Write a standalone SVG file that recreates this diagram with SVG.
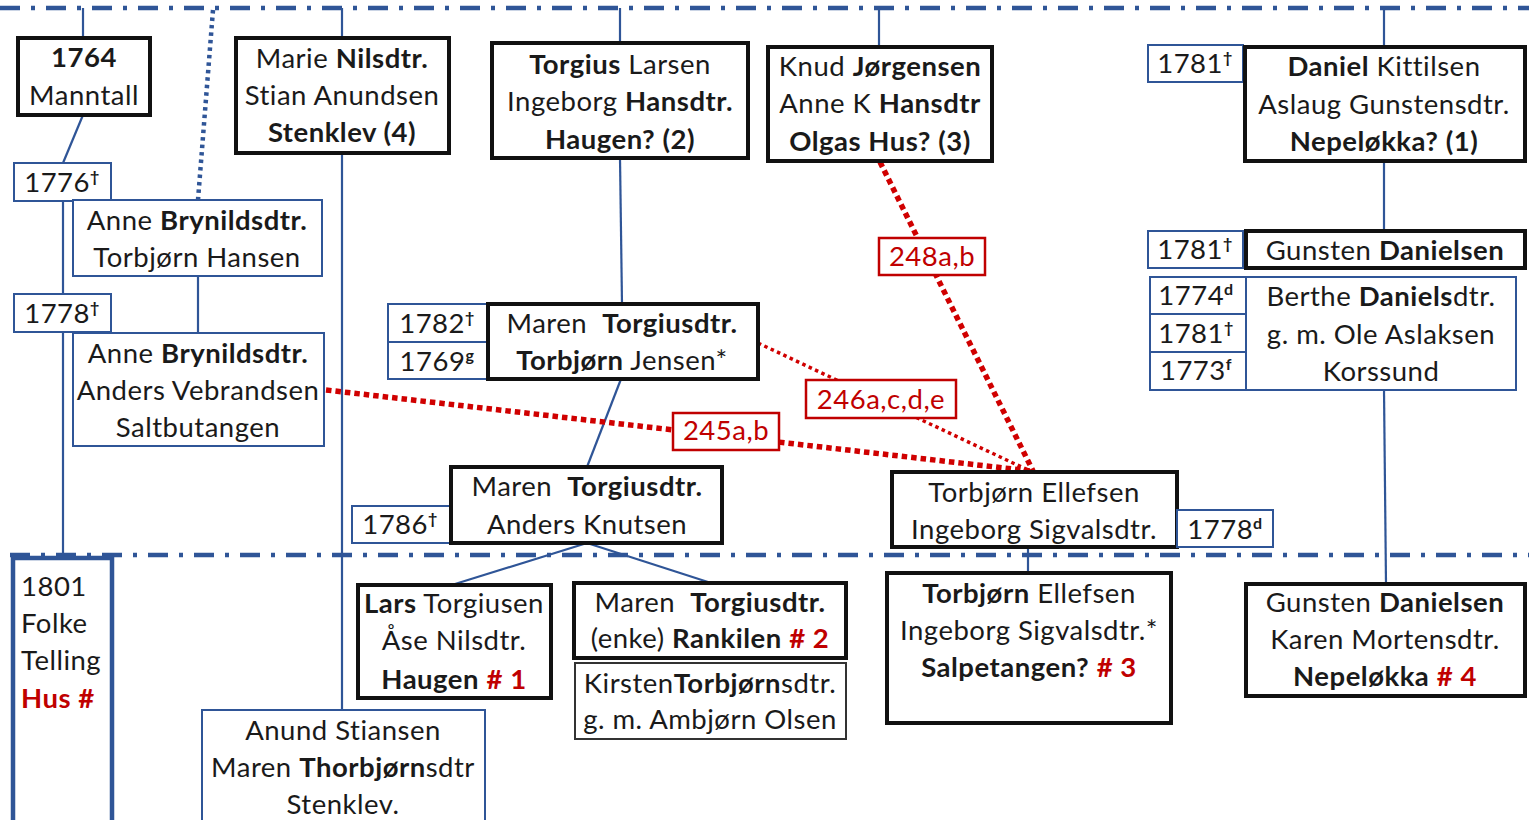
<svg xmlns="http://www.w3.org/2000/svg" width="1529" height="820" viewBox="0 0 1529 820">
<style>
text{font-family:Lato,"Open Sans","Liberation Sans",sans-serif;font-size:27.5px;letter-spacing:0.5px;fill:#1a1a1a;text-anchor:middle;white-space:pre}
.b{font-weight:bold}
.r{fill:#c00000;font-weight:bold}
.rl{fill:#c00000}
.sup{font-size:16px;font-weight:bold}
.bk{fill:#fff;stroke:#111;stroke-width:4}
.bl{fill:#fff;stroke:#2f5597;stroke-width:2}
.gy{fill:#fff;stroke:#333;stroke-width:2}
.rb{fill:#fff;stroke:#c00000;stroke-width:2.5}
.ln{stroke:#2f5597;stroke-width:2.2;fill:none}
.dd{stroke:#2f5597;stroke-width:4.5;fill:none;stroke-dasharray:20 11 4 11}
.rd{stroke:#d00000;stroke-width:5.5;fill:none;stroke-dasharray:5.5 4}
.rt{stroke:#d00000;stroke-width:3.5;fill:none;stroke-dasharray:3.5 3.5}
</style>
<rect width="1529" height="820" fill="#fff"/>
<g id="connectors">
<line class="dd" x1="0" y1="8" x2="1529" y2="8"/>
<line class="dd" x1="10" y1="555" x2="1529" y2="555"/>
<line class="ln" x1="83" y1="8" x2="83" y2="38"/>
<line class="ln" x1="342" y1="8" x2="342" y2="38"/>
<line class="ln" x1="620" y1="8" x2="620" y2="43"/>
<line class="ln" x1="879" y1="8" x2="879" y2="47"/>
<line class="ln" x1="1384" y1="8" x2="1384" y2="47"/>
<line x1="213" y1="10" x2="198" y2="200" stroke="#2f5597" stroke-width="4.5" stroke-dasharray="3.5 4"/>
<line class="ln" x1="83" y1="115" x2="63" y2="163"/>
<line class="ln" x1="63" y1="201" x2="63" y2="294"/>
<line class="ln" x1="63" y1="332" x2="63" y2="556"/>
<line class="ln" x1="198" y1="276" x2="198" y2="333"/>
<line class="ln" x1="342" y1="153" x2="342" y2="709"/>
<line class="ln" x1="620" y1="158" x2="622" y2="304"/>
<line class="ln" x1="621" y1="379" x2="587" y2="467"/>
<line class="ln" x1="587" y1="543" x2="455" y2="584"/>
<line class="ln" x1="587" y1="543" x2="708" y2="582"/>
<line class="ln" x1="1384" y1="161" x2="1384" y2="230"/>
<line class="ln" x1="1384" y1="390" x2="1386" y2="584"/>
<line class="ln" x1="1028" y1="547" x2="1028" y2="572"/>
<line class="rd" x1="326" y1="390" x2="1030" y2="471"/>
<line class="rt" x1="758" y1="343" x2="1030" y2="471"/>
<line class="rd" x1="880" y1="162" x2="1033" y2="471"/>
</g>
<g id="n1764"><rect class="bk" x="18" y="38" width="132" height="77"/><text x="84" y="67" class="b">1764</text><text x="84" y="105">Manntall</text></g>
<g id="nMarie"><rect class="bk" x="236" y="38" width="213" height="115"/><text x="342" y="68">Marie <tspan class="b">Nilsdtr.</tspan></text><text x="342" y="105">Stian Anundsen</text><text x="342" y="142" class="b">Stenklev (4)</text></g>
<g id="nTorgius"><rect class="bk" x="492" y="43" width="256" height="115"/><text x="620" y="74"><tspan class="b">Torgius</tspan> Larsen</text><text x="620" y="111">Ingeborg <tspan class="b">Hansdtr.</tspan></text><text x="620" y="149" class="b">Haugen? (2)</text></g>
<g id="nKnud"><rect class="bk" x="768" y="47" width="224" height="114"/><text x="880" y="76">Knud <tspan class="b">Jørgensen</tspan></text><text x="880" y="113">Anne K <tspan class="b">Hansdtr</tspan></text><text x="880" y="151" class="b">Olgas Hus? (3)</text></g>
<g id="nDaniel"><rect class="bl" x="1148" y="45" width="95" height="37"/><text x="1195" y="73">1781<tspan class="sup" dy="-10">†</tspan></text><rect class="bk" x="1245" y="47" width="280" height="114"/><text x="1384" y="76"><tspan class="b">Daniel</tspan> Kittilsen</text><text x="1384" y="114">Aslaug Gunstensdtr.</text><text x="1384" y="151" class="b">Nepeløkka? (1)</text></g>
<g id="nGunsten"><rect class="bl" x="1148" y="231" width="95" height="37"/><text x="1195" y="259">1781<tspan class="sup" dy="-10">†</tspan></text><rect class="bk" x="1246" y="231" width="279" height="37"/><text x="1385" y="260">Gunsten <tspan class="b">Danielsen</tspan></text></g>
<g id="nBerthe"><rect class="bl" x="1246" y="277" width="270" height="113"/><rect class="bl" x="1150" y="277" width="96" height="37"/><rect class="bl" x="1150" y="314" width="96" height="38"/><rect class="bl" x="1150" y="352" width="96" height="38"/><text x="1196" y="305">1774<tspan class="sup" dy="-10">d</tspan></text><text x="1196" y="343">1781<tspan class="sup" dy="-10">†</tspan></text><text x="1196" y="380">1773<tspan class="sup" dy="-10">f</tspan></text><text x="1381" y="306">Berthe <tspan class="b">Daniels</tspan>dtr.</text><text x="1381" y="344">g. m. Ole Aslaksen</text><text x="1381" y="381">Korssund</text></g>
<g id="nAnneHansen"><rect class="bl" x="14" y="163" width="97" height="38"/><text x="62" y="192">1776<tspan class="sup" dy="-10">†</tspan></text><rect class="bl" x="73" y="200" width="249" height="76"/><text x="197" y="230">Anne <tspan class="b">Brynildsdtr.</tspan></text><text x="197" y="267">Torbjørn Hansen</text></g>
<g id="nAnneAnders"><rect class="bl" x="14" y="294" width="97" height="38"/><text x="62" y="323">1778<tspan class="sup" dy="-10">†</tspan></text><rect class="bl" x="73" y="333" width="251" height="113"/><text x="198" y="363">Anne <tspan class="b">Brynildsdtr.</tspan></text><text x="198" y="400">Anders Vebrandsen</text><text x="198" y="437">Saltbutangen</text></g>
<g id="nMarenJensen"><rect class="bl" x="388" y="304" width="100" height="38"/><rect class="bl" x="388" y="342" width="100" height="37"/><text x="437" y="333">1782<tspan class="sup" dy="-10">†</tspan></text><text x="437" y="371">1769<tspan class="sup" dy="-10">g</tspan></text><rect class="bk" x="488" y="304" width="270" height="75"/><text x="622" y="333">Maren  <tspan class="b">Torgiusdtr.</tspan></text><text x="622" y="370"><tspan class="b">Torbjørn</tspan> Jensen*</text></g>
<g id="nMarenKnutsen"><rect class="bl" x="352" y="506" width="99" height="37"/><text x="400" y="534">1786<tspan class="sup" dy="-10">†</tspan></text><rect class="bk" x="451" y="467" width="271" height="76"/><text x="587" y="496">Maren  <tspan class="b">Torgiusdtr.</tspan></text><text x="587" y="534">Anders Knutsen</text></g>
<g id="nEllefsen"><rect class="bk" x="892" y="472" width="285" height="75"/><text x="1034" y="502">Torbjørn Ellefsen</text><text x="1034" y="539">Ingeborg Sigvalsdtr.</text><rect class="bl" x="1177" y="510" width="96" height="37"/><text x="1225" y="539">1778<tspan class="sup" dy="-10">d</tspan></text></g>
<g id="l245"><rect class="rb" x="673" y="413" width="106" height="37"/><text x="726" y="440" class="rl">245a,b</text></g>
<g id="l246"><rect class="rb" x="806" y="380" width="150" height="38"/><text x="881" y="409" class="rl">246a,c,d,e</text></g>
<g id="l248"><rect class="rb" x="879" y="238" width="106" height="37"/><text x="932" y="266" class="rl">248a,b</text></g>
<g id="n1801"><rect x="13" y="558" width="99" height="280" fill="#fff" stroke="#2f5597" stroke-width="4.5"/><text x="21" y="596" style="text-anchor:start">1801</text><text x="21" y="633" style="text-anchor:start">Folke</text><text x="21" y="670" style="text-anchor:start">Telling</text><text x="21" y="708" class="r" style="text-anchor:start">Hus #</text></g>
<g id="nLars"><rect class="bk" x="358" y="585" width="193" height="113"/><text x="454" y="613"><tspan class="b">Lars</tspan> Torgiusen</text><text x="454" y="650">Åse Nilsdtr.</text><text x="454" y="689"><tspan class="b">Haugen</tspan> <tspan class="r"># 1</tspan></text></g>
<g id="nMarenEnke"><rect class="bk" x="574" y="583" width="272" height="75"/><text x="710" y="612">Maren  <tspan class="b">Torgiusdtr.</tspan></text><text x="710" y="648">(enke) <tspan class="b">Rankilen</tspan> <tspan class="r"># 2</tspan></text></g>
<g id="nKirsten"><rect class="gy" x="575" y="663" width="271" height="76"/><text x="710" y="693">Kirsten<tspan class="b">Torbjørn</tspan>sdtr.</text><text x="710" y="729">g. m. Ambjørn Olsen</text></g>
<g id="nTorbjornBottom"><rect class="bk" x="887" y="573" width="284" height="150"/><text x="1029" y="603"><tspan class="b">Torbjørn</tspan> Ellefsen</text><text x="1029" y="640">Ingeborg Sigvalsdtr.*</text><text x="1029" y="677"><tspan class="b">Salpetangen?</tspan> <tspan class="r"># 3</tspan></text></g>
<g id="nGunstenBottom"><rect class="bk" x="1246" y="584" width="279" height="112"/><text x="1385" y="612">Gunsten <tspan class="b">Danielsen</tspan></text><text x="1385" y="649">Karen Mortensdtr.</text><text x="1385" y="686"><tspan class="b">Nepeløkka</tspan> <tspan class="r"># 4</tspan></text></g>
<g id="nAnund"><rect class="bl" x="202" y="710" width="283" height="130"/><text x="343" y="740">Anund Stiansen</text><text x="343" y="777">Maren <tspan class="b">Thorbjørn</tspan>sdtr</text><text x="343" y="814">Stenklev.</text></g>
</svg>
